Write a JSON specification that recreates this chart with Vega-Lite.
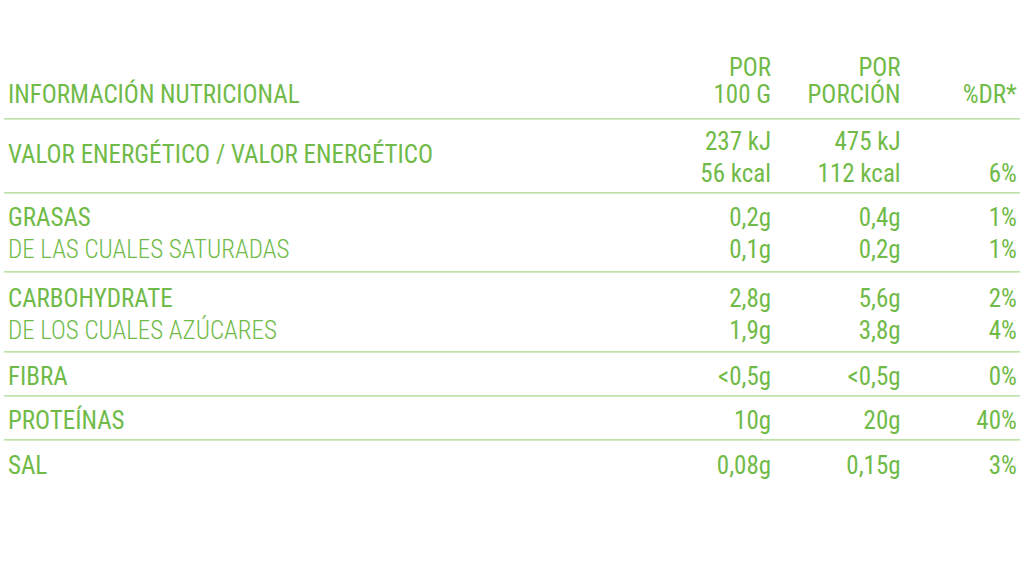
{
  "$schema": "https://vega.github.io/schema/vega-lite/v6.json",
  "width": 1024,
  "height": 577,
  "autosize": {"type": "fit", "contains": "padding"},
  "padding": 0,
  "background": "white",
  "config": {
    "view": {"stroke": null},
    "text": {"font": "'Liberation Sans Narrow', 'Roboto Condensed', 'DejaVu Sans Condensed', sans-serif", "fontSize": 25, "color": "#70ba48", "baseline": "alphabetic"}
  },
  "datasets": {
    "lines": [
      {"line": 2.36, "label": "", "kind": "head", "per100": "POR", "portion": "POR", "dr": ""},
      {"line": 3.22, "label": "INFORMACIÓN NUTRICIONAL", "kind": "head", "per100": "100 G", "portion": "PORCIÓN", "dr": "%DR*"},
      {"line": 4.68, "label": "", "kind": "nutrient", "per100": "237 kJ", "portion": "475 kJ", "dr": ""},
      {"line": 5.08, "label": "VALOR ENERGÉTICO / VALOR ENERGÉTICO", "kind": "nutrient", "per100": "", "portion": "", "dr": ""},
      {"line": 5.68, "label": "", "kind": "nutrient", "per100": "56 kcal", "portion": "112 kcal", "dr": "6%"},
      {"line": 7.05, "label": "GRASAS", "kind": "nutrient", "per100": "0,2g", "portion": "0,4g", "dr": "1%"},
      {"line": 8.05, "label": "DE LAS CUALES SATURADAS", "kind": "sub", "per100": "0,1g", "portion": "0,2g", "dr": "1%"},
      {"line": 9.58, "label": "CARBOHYDRATE", "kind": "nutrient", "per100": "2,8g", "portion": "5,6g", "dr": "2%"},
      {"line": 10.57, "label": "DE LOS CUALES AZÚCARES", "kind": "sub", "per100": "1,9g", "portion": "3,8g", "dr": "4%"},
      {"line": 12.01, "label": "FIBRA", "kind": "nutrient", "per100": "<0,5g", "portion": "<0,5g", "dr": "0%"},
      {"line": 13.38, "label": "PROTEÍNAS", "kind": "nutrient", "per100": "10g", "portion": "20g", "dr": "40%"},
      {"line": 14.79, "label": "SAL", "kind": "nutrient", "per100": "0,08g", "portion": "0,15g", "dr": "3%"}
    ],
    "dividers": [
      {"line": 3.71}, {"line": 6.02}, {"line": 8.48}, {"line": 10.98}, {"line": 12.35}, {"line": 13.72}
    ]
  },
  "layer": [
    {
      "data": {"name": "dividers"},
      "mark": {"type": "rule", "color": "#a8d78e", "strokeWidth": 1.3},
      "encoding": {
        "y": {"field": "line", "type": "quantitative", "scale": {"domain": [0, 18], "reverse": true}, "axis": null},
        "x": {"datum": 0.4, "type": "quantitative", "scale": {"domain": [0, 100]}, "axis": null},
        "x2": {"datum": 99.6}
      }
    },
    {
      "data": {"name": "lines"},
      "transform": [{"filter": "datum.kind != 'sub'"}],
      "mark": {"type": "text", "align": "left"},
      "encoding": {
        "y": {"field": "line", "type": "quantitative"},
        "x": {"datum": 0.78, "type": "quantitative"},
        "text": {"field": "label"}
      }
    },
    {
      "data": {"name": "lines"},
      "transform": [{"filter": "datum.kind == 'sub'"}],
      "mark": {"type": "text", "align": "left", "fontWeight": 300},
      "encoding": {
        "y": {"field": "line", "type": "quantitative"},
        "x": {"datum": 0.78, "type": "quantitative"},
        "text": {"field": "label"}
      }
    },
    {
      "data": {"name": "lines"},
      "mark": {"type": "text", "align": "right"},
      "encoding": {
        "y": {"field": "line", "type": "quantitative"},
        "x": {"datum": 75.3, "type": "quantitative"},
        "text": {"field": "per100"}
      }
    },
    {
      "data": {"name": "lines"},
      "mark": {"type": "text", "align": "right"},
      "encoding": {
        "y": {"field": "line", "type": "quantitative"},
        "x": {"datum": 87.95, "type": "quantitative"},
        "text": {"field": "portion"}
      }
    },
    {
      "data": {"name": "lines"},
      "mark": {"type": "text", "align": "right"},
      "encoding": {
        "y": {"field": "line", "type": "quantitative"},
        "x": {"datum": 99.3, "type": "quantitative"},
        "text": {"field": "dr"}
      }
    }
  ]
}
